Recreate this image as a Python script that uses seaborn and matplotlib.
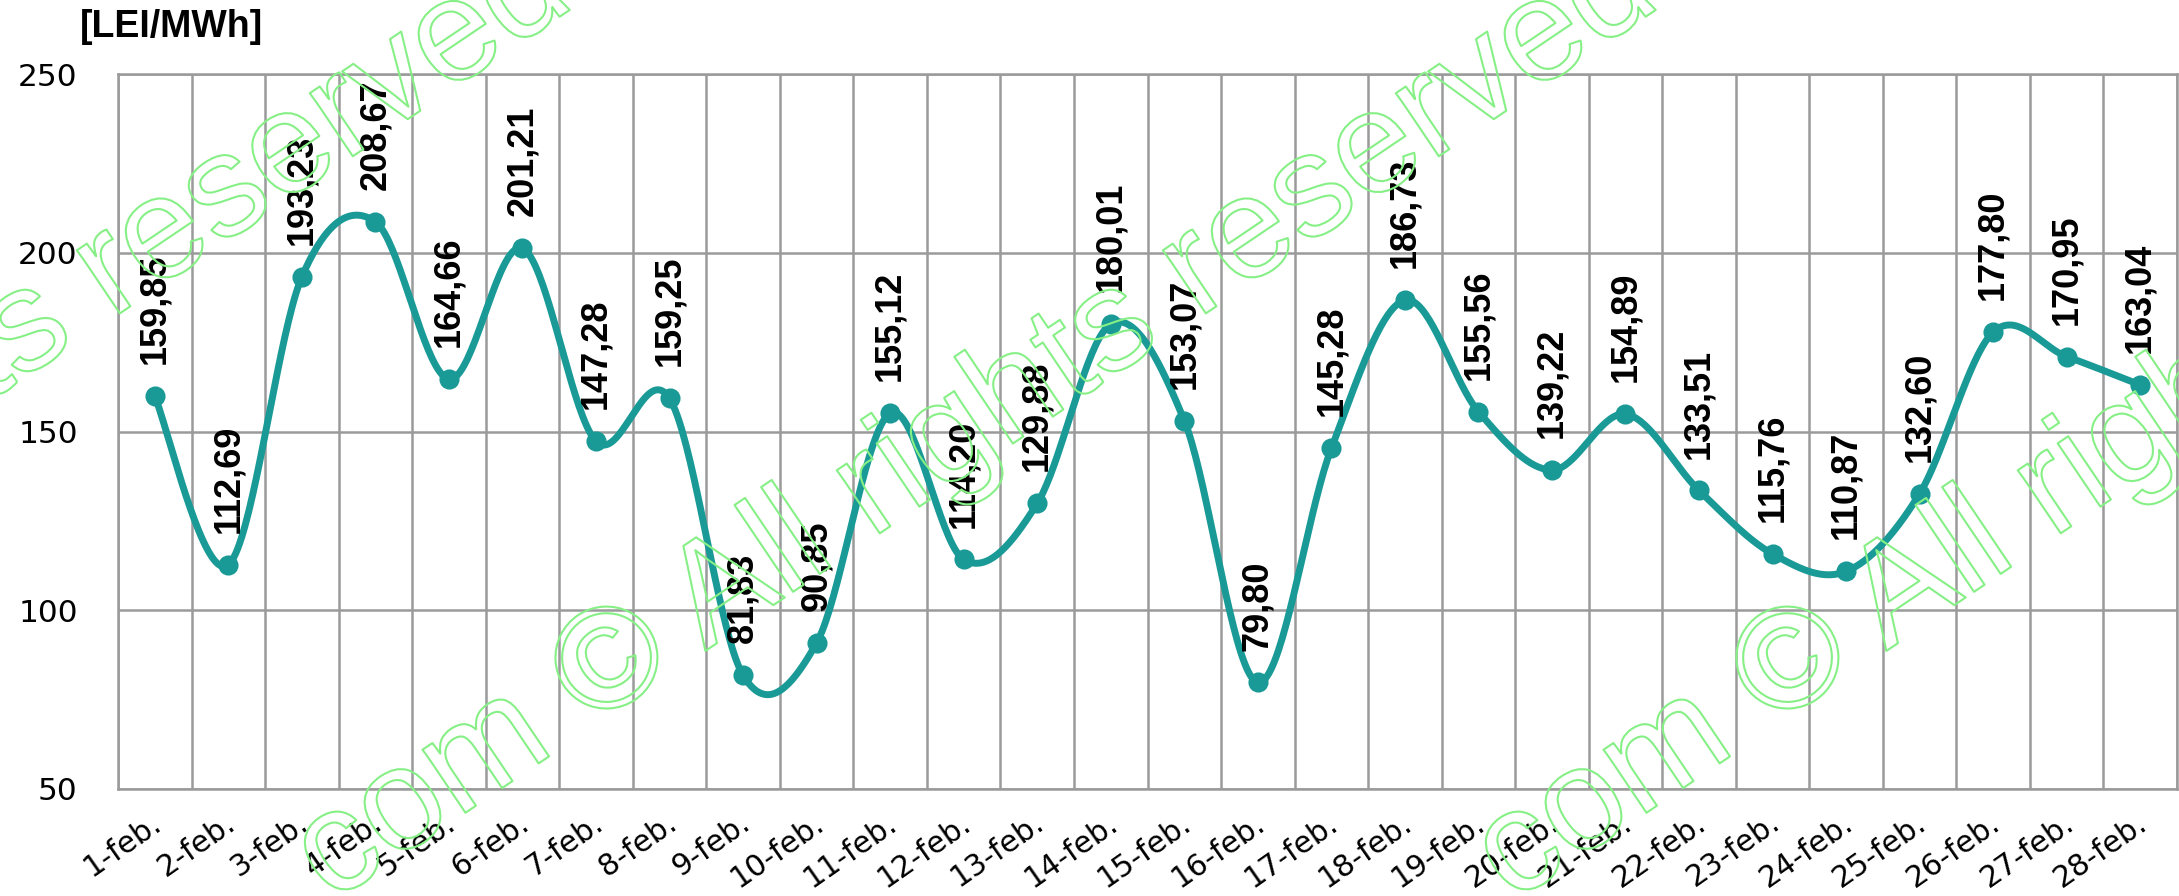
import numpy as np
import pandas as pd
import matplotlib
matplotlib.use("Agg")
import matplotlib.pyplot as plt
import seaborn as sns
from matplotlib import patheffects as pe
from matplotlib.transforms import ScaledTranslation

# Data
days = [f"{d}-feb." for d in range(1, 29)]
prices = [159.85, 112.69, 193.23, 208.67, 164.66, 201.21, 147.28, 159.25,
          81.83, 90.85, 155.12, 114.20, 129.88, 180.01, 153.07, 79.80,
          145.28, 186.73, 155.56, 139.22, 154.89, 133.51, 115.76, 110.87,
          132.60, 177.80, 170.95, 163.04]
y_ticks = [50, 100, 150, 200, 250]
unit_label = "[LEI/MWh]"
watermark = "com \u00a9 All rights reserved"

teal = "#1A9A96"
grid_gray = "#9A9A9A"

sns.set_style("white")
plt.rcParams["font.family"] = ["DejaVu Sans"]
plt.rcParams["text.color"] = "black"

W, H = 2179, 896
fig = plt.figure(figsize=(W / 100, H / 100), dpi=100)
ax = fig.add_axes([118 / W, 1 - 789 / H, (2177 - 118) / W, (789 - 74) / H])

# smoothed line (Excel-like bezier through the points)
x = np.arange(len(prices), dtype=float)
y = np.array(prices)
pts = np.column_stack([x, y])
n = len(pts)
t = np.linspace(0, 1, 40)[:, None]
curve = []
for i in range(n - 1):
    p0 = pts[max(i - 1, 0)]
    p1 = pts[i]
    p2 = pts[i + 1]
    p3 = pts[min(i + 2, n - 1)]
    c1 = p1 + (p2 - p0) / 6
    c2 = p2 - (p3 - p1) / 6
    seg = (1 - t) ** 3 * p1 + 3 * (1 - t) ** 2 * t * c1 + 3 * (1 - t) * t ** 2 * c2 + t ** 3 * p2
    curve.append(seg)
curve = np.vstack(curve)
smooth = pd.DataFrame({"x": curve[:, 0], "y": curve[:, 1]})

sns.lineplot(data=smooth, x="x", y="y", sort=False, estimator=None,
             color=teal, linewidth=5, ax=ax, zorder=3)
sns.scatterplot(x=x, y=y, color=teal, edgecolor=teal, s=180, ax=ax, zorder=4)

# value labels
for xi, v in zip(x, prices):
    ax.annotate(f"{v:.2f}".replace(".", ","), (xi, v), xytext=(0, 23),
                textcoords="offset points", rotation=90, ha="center", va="bottom",
                fontsize=26, fontweight="bold", family="Liberation Sans",
                color="black", zorder=5)

# axes
ax.set_xlim(-0.5, len(prices) - 0.5)
ax.set_ylim(50, 250)
ax.set_yticks(y_ticks)
ax.set_xticks(x)
ax.set_xticks(np.arange(-0.5, len(prices)), minor=True)
ax.set_xticklabels(days, rotation=35, ha="right", va="center", rotation_mode="anchor",
                   fontsize=21.5)
ax.tick_params(axis="y", labelsize=22.5, length=11, width=1.8, color=grid_gray,
               pad=18, labelcolor="black")
ax.tick_params(axis="x", which="major", length=0, pad=22, labelcolor="black")
ax.tick_params(axis="x", which="minor", length=10, width=1.8, color=grid_gray)
ax.grid(axis="y", which="major", color=grid_gray, linewidth=1.8)
ax.grid(axis="x", which="minor", color=grid_gray, linewidth=1.8)
ax.set_xlabel("")
ax.set_ylabel("")
for s in ax.spines.values():
    s.set_visible(True)
    s.set_color(grid_gray)
    s.set_linewidth(1.8)

offset = ScaledTranslation(4 / 100, 0, fig.dpi_scale_trans)
for lab in ax.get_xticklabels():
    lab.set_transform(lab.get_transform() + offset)

fig.text(171 / W, 1 - 27 / H, unit_label, ha="center", va="center",
         fontsize=27, fontweight="bold", family="Liberation Sans", color="black")

# watermark
deg = 34
ang = np.deg2rad(deg)
wm_size = 104
em = wm_size * 100 / 72
u = np.array([np.cos(ang), np.sin(ang)])
perp = np.array([-np.sin(ang), np.cos(ang)])
for cx in [-480, 606, 1787]:
    c = np.array([cx, H - 657])
    start = c - 2.535 * em * u - 0.35 * em * perp
    fig.text(start[0] / W, start[1] / H, watermark, rotation=deg, rotation_mode="anchor",
             ha="left", va="baseline", fontsize=wm_size, family="Liberation Sans",
             color="none", zorder=10,
             path_effects=[pe.withStroke(linewidth=1.5, foreground="#86F086")])

fig.savefig("out.png", dpi=100)
